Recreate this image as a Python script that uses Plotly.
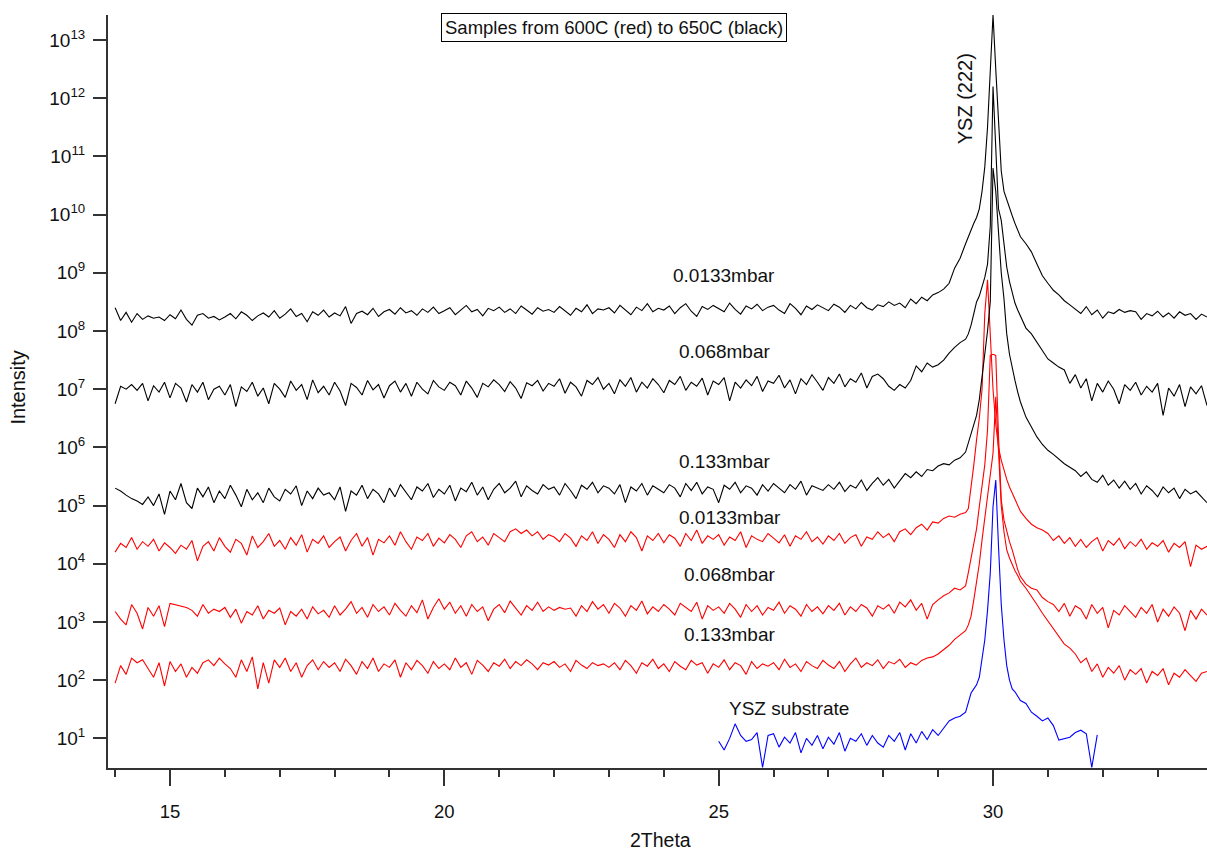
import numpy as np
import plotly.graph_objects as go

# 2Theta sampling grid (measurement steps)
seg_a = np.round(np.arange(14.0, 29.501, 0.1), 2)
seg_peak = np.round(np.arange(29.55, 30.501, 0.05), 2)
seg_b = np.round(np.arange(30.6, 33.901, 0.1), 2)
two_theta = np.concatenate([seg_a, seg_peak, seg_b])

sub_a = np.round(np.arange(25.0, 29.501, 0.1), 2)
sub_b = np.round(np.arange(30.6, 31.901, 0.1), 2)
two_theta_sub = np.concatenate([sub_a, seg_peak, sub_b])

# log10(Intensity)
log_black_00133 = [
    8.40, 8.18, 8.32, 8.15, 8.30, 8.20, 8.26, 8.22, 8.24, 8.18,
    8.28, 8.21, 8.36, 8.20, 8.10, 8.27, 8.30, 8.22, 8.25, 8.19,
    8.24, 8.30, 8.21, 8.33, 8.27, 8.18, 8.26, 8.31, 8.24, 8.35,
    8.22, 8.29, 8.38, 8.25, 8.30, 8.16, 8.33, 8.27, 8.36, 8.24,
    8.31, 8.26, 8.42, 8.13, 8.30, 8.34, 8.28, 8.39, 8.25, 8.33,
    8.37, 8.29, 8.40, 8.31, 8.35, 8.27, 8.38, 8.32, 8.41, 8.30,
    8.35, 8.40, 8.28, 8.36, 8.44, 8.33, 8.37, 8.26, 8.39, 8.35,
    8.41, 8.32, 8.38, 8.30, 8.43, 8.36, 8.29, 8.40, 8.34, 8.37,
    8.32, 8.42, 8.35, 8.27, 8.39, 8.33, 8.45, 8.30, 8.38, 8.36,
    8.40, 8.31, 8.44, 8.36, 8.28, 8.41, 8.35, 8.47, 8.33, 8.39,
    8.36, 8.43, 8.30, 8.40, 8.47, 8.34, 8.25, 8.42, 8.37, 8.44,
    8.39, 8.33, 8.48, 8.37, 8.29, 8.43, 8.38, 8.46, 8.35, 8.41,
    8.44, 8.36, 8.30, 8.47, 8.39, 8.28, 8.43, 8.37, 8.45, 8.40,
    8.35, 8.46, 8.41, 8.32, 8.44, 8.38, 8.49, 8.40, 8.36, 8.45,
    8.42, 8.50, 8.44, 8.48, 8.40, 8.55, 8.47, 8.58, 8.52, 8.62,
    8.66, 8.72, 8.82, 9.08, 9.25, 9.50,
    9.62, 9.75, 9.85, 9.95, 10.10, 10.40, 10.82, 11.50, 12.40, 13.43,
    12.50, 11.70, 10.75, 10.40, 10.25, 10.10, 9.98, 9.85, 9.72, 9.62,
    9.50, 9.36, 9.15, 8.95, 8.82, 8.70, 8.62, 8.52, 8.45, 8.38,
    8.30, 8.42, 8.28, 8.36, 8.22, 8.33, 8.30, 8.37, 8.32, 8.35,
    8.33, 8.20, 8.30, 8.26, 8.34, 8.24, 8.31, 8.22, 8.33, 8.27,
    8.30, 8.20, 8.29, 8.24,
]

log_black_0068 = [
    6.75, 7.05, 7.00, 7.08, 6.98, 7.10, 6.80, 7.06, 6.95, 7.12,
    6.85, 7.10, 7.02, 6.78, 7.08, 6.95, 7.12, 6.82, 7.00, 7.05,
    6.90, 7.08, 6.70, 7.04, 6.96, 7.12, 6.88, 7.02, 6.75, 7.10,
    7.00, 6.86, 7.14, 6.98, 7.08, 6.82, 7.16, 6.94, 7.05, 6.90,
    7.12, 6.97, 6.72, 7.10, 7.03, 6.90, 7.15, 6.99, 7.08, 6.85,
    7.06, 7.14, 6.95, 7.10, 6.88, 7.12, 7.00, 6.92, 7.15, 7.04,
    6.98, 7.12, 7.06, 6.90, 7.14, 7.02, 6.86, 7.10, 7.04, 7.16,
    7.08, 6.96, 7.13, 7.02, 6.84, 7.11, 7.06, 7.15, 6.97, 7.10,
    7.05, 7.18, 6.93, 7.12, 7.04, 6.88, 7.15, 7.08, 7.20, 7.00,
    7.10, 6.92, 7.16, 7.05, 7.20, 6.95, 7.12, 7.02, 7.18, 7.08,
    6.94, 7.15, 7.08, 7.22, 6.98, 7.12, 7.05, 7.19, 6.90, 7.14,
    7.08, 7.20, 6.80, 7.12, 7.02, 7.16, 7.06, 7.22, 6.96, 7.14,
    7.10, 7.24, 7.02, 7.16, 6.92, 7.18, 7.08, 7.25, 7.12, 6.98,
    7.20, 7.10, 7.26, 7.04, 7.18, 7.12, 7.28, 7.02, 7.22, 7.26,
    7.18, 7.05, 6.98, 7.08, 7.02, 7.15, 7.40, 7.30, 7.45, 7.38,
    7.42, 7.50, 7.62, 7.72, 7.80, 7.86,
    7.95, 8.10, 8.30, 8.50, 8.60, 8.75, 8.92, 9.15, 9.80, 12.20,
    11.20, 10.10, 9.90, 9.45, 9.10, 8.85, 8.65, 8.48, 8.36, 8.25,
    8.05, 7.95, 7.80, 7.65, 7.52, 7.45, 7.38, 7.33, 7.10, 7.25,
    7.02, 7.18, 6.80, 7.10, 6.95, 7.14, 7.00, 6.75, 7.08, 6.98,
    7.12, 6.90, 7.05, 6.95, 7.10, 6.55, 7.02, 6.88, 7.08, 6.70,
    7.04, 6.92, 7.06, 6.72,
]

log_black_0133 = [
    5.30, 5.25, 5.18, 5.12, 5.08, 5.02, 5.15, 5.00, 5.20, 4.85,
    5.25, 5.10, 5.38, 5.05, 4.95, 5.30, 5.15, 5.32, 5.05, 5.25,
    5.12, 5.35, 5.18, 4.98, 5.28, 5.10, 5.22, 5.05, 5.30, 5.15,
    5.08, 5.28, 5.20, 5.34, 5.00, 5.25, 5.12, 5.30, 5.18, 5.22,
    5.10, 5.32, 4.90, 5.25, 5.18, 5.35, 5.12, 5.28, 5.20, 5.05,
    5.30, 5.15, 5.36, 5.22, 5.10, 5.32, 5.25, 5.38, 5.14, 5.28,
    5.20, 5.35, 5.08, 5.30, 5.24, 5.40, 5.18, 5.32, 5.10, 5.28,
    5.38, 5.22, 5.30, 5.42, 5.15, 5.34, 5.26, 5.20, 5.36, 5.28,
    5.32, 5.18, 5.38, 5.26, 5.12, 5.35, 5.28, 5.40, 5.22, 5.34,
    5.30, 5.20, 5.36, 5.05, 5.32, 5.25, 5.38, 5.18, 5.34, 5.28,
    5.22, 5.36, 5.30, 5.15, 5.38, 5.26, 5.40, 5.20, 5.32, 5.28,
    5.05, 5.35, 5.28, 5.40, 5.22, 5.34, 5.30, 5.18, 5.36, 5.25,
    5.38, 5.30, 5.22, 5.36, 5.28, 5.42, 5.18, 5.34, 5.30, 5.26,
    5.36, 5.28, 5.40, 5.24, 5.35, 5.30, 5.44, 5.26, 5.38, 5.48,
    5.35, 5.45, 5.30, 5.42, 5.55, 5.48, 5.58, 5.50, 5.62, 5.60,
    5.68, 5.72, 5.70, 5.78, 5.82, 5.92,
    6.08, 6.20, 6.38, 6.55, 6.82, 7.20, 7.60, 8.00, 8.50, 10.80,
    10.40, 9.60, 9.00, 8.55, 7.95, 7.60, 7.35, 7.15, 6.95, 6.78,
    6.52, 6.35, 6.18, 6.05, 5.95, 5.88, 5.80, 5.72, 5.66, 5.60,
    5.50, 5.58, 5.45, 5.40, 5.52, 5.35, 5.44, 5.30, 5.42, 5.28,
    5.38, 5.20, 5.34, 5.26, 5.15, 5.32, 5.22, 5.30, 5.12, 5.28,
    5.20, 5.25, 5.15, 5.05,
]

log_red_00133 = [
    4.20, 4.35, 4.28, 4.45, 4.25, 4.38, 4.30, 4.42, 4.22, 4.36,
    4.28, 4.18, 4.32, 4.25, 4.40, 4.05, 4.30, 4.38, 4.22, 4.45,
    4.30, 4.20, 4.42, 4.35, 4.15, 4.48, 4.28, 4.38, 4.52, 4.30,
    4.40, 4.25, 4.45, 4.32, 4.50, 4.20, 4.42, 4.35, 4.48, 4.28,
    4.38, 4.46, 4.22, 4.40, 4.52, 4.30, 4.45, 4.15, 4.42, 4.36,
    4.48, 4.32, 4.55, 4.38, 4.25, 4.46, 4.40, 4.52, 4.30, 4.44,
    4.36, 4.50, 4.42, 4.28, 4.48, 4.55, 4.38, 4.46, 4.32, 4.52,
    4.45, 4.38, 4.55, 4.60, 4.52, 4.58, 4.48, 4.55, 4.42, 4.50,
    4.46, 4.38, 4.52, 4.44, 4.30, 4.48, 4.40, 4.55, 4.35, 4.50,
    4.42, 4.28, 4.50, 4.38, 4.55, 4.45, 4.22, 4.48, 4.40, 4.52,
    4.36, 4.50, 4.44, 4.30, 4.52, 4.40, 4.58, 4.35, 4.48, 4.42,
    4.50, 4.32, 4.46, 4.40, 4.55, 4.28, 4.48, 4.42, 4.38, 4.52,
    4.44, 4.36, 4.50, 4.30, 4.48, 4.42, 4.55, 4.38, 4.46, 4.34,
    4.48, 4.40, 4.52, 4.35, 4.45, 4.50, 4.30, 4.46, 4.42, 4.55,
    4.45, 4.52, 4.38, 4.55, 4.60, 4.50, 4.62, 4.68, 4.58, 4.72,
    4.70, 4.78, 4.82, 4.80, 4.85, 4.88,
    4.95, 5.30, 5.70, 6.13, 6.50, 7.00, 8.30, 8.88, 7.80, 7.00,
    6.40, 6.00, 5.78, 5.60, 5.45, 5.32, 5.22, 5.10, 5.00, 4.90,
    4.78, 4.68, 4.62, 4.58, 4.52, 4.40, 4.48, 4.35, 4.45, 4.30,
    4.42, 4.28, 4.38, 4.45, 4.22, 4.40, 4.32, 4.44, 4.26, 4.38,
    4.30, 4.42, 4.25, 4.36, 4.30, 4.40, 4.20, 4.35, 4.28, 4.38,
    3.95, 4.32, 4.25, 4.30,
]

log_red_0068 = [
    3.18, 3.05, 2.95, 3.30, 3.15, 2.88, 3.25, 3.10, 3.28, 2.92,
    3.32, 3.30, 3.28, 3.25, 3.20, 3.10, 3.30, 3.15, 3.22, 3.18,
    3.25, 3.08, 3.22, 2.98, 3.18, 3.12, 3.28, 3.05, 3.20, 3.15,
    3.24, 2.95, 3.18, 3.10, 3.22, 3.05, 3.26, 3.14, 3.20, 3.08,
    3.28, 3.12, 3.22, 3.35, 3.15, 3.25, 3.08, 3.30, 3.18, 3.26,
    3.12, 3.32, 3.20, 3.10, 3.28, 3.16, 3.38, 3.05, 3.25, 3.40,
    3.22, 3.34, 3.15, 3.28, 3.10, 3.30, 3.18, 3.26, 3.02, 3.22,
    3.30, 3.16, 3.36, 3.24, 3.12, 3.28, 3.20, 3.34, 3.18, 3.26,
    3.20, 3.25, 3.22, 3.24, 3.10, 3.28, 3.18, 3.35, 3.22, 3.30,
    3.15, 3.32, 3.24, 3.10, 3.28, 3.20, 3.36, 3.14, 3.26, 3.18,
    3.30, 3.22, 3.12, 3.32, 3.25, 3.18, 3.34, 3.05, 3.28, 3.20,
    3.26, 3.15, 3.32, 3.22, 3.08, 3.30, 3.18, 3.28, 3.12, 3.25,
    3.20, 3.34, 3.15, 3.28, 3.22, 3.10, 3.30, 3.18, 3.26, 3.14,
    3.28, 3.20, 3.32, 3.12, 3.26, 3.18, 3.30, 3.24, 3.10, 3.28,
    3.22, 3.30, 3.15, 3.34, 3.26, 3.38, 3.20, 3.32, 3.05, 3.30,
    3.38, 3.45, 3.50, 3.58, 3.55, 3.62,
    3.85, 4.10, 4.30, 4.60, 4.98, 5.30, 5.70, 6.30, 7.58, 7.60,
    7.58, 6.20, 5.10, 4.75, 4.55, 4.38, 4.24, 4.05, 3.90, 3.78,
    3.65, 3.58, 3.55, 3.42, 3.35, 3.30, 3.18, 3.32, 3.10, 3.28,
    3.22, 3.05, 3.30, 3.15, 3.25, 2.90, 3.20, 3.12, 3.28, 3.18,
    3.08, 3.25, 3.15, 3.30, 3.00, 3.22, 3.10, 3.26, 3.15, 2.85,
    3.20, 3.05, 3.22, 3.12,
]

log_red_0133 = [
    1.95, 2.25, 2.10, 2.38, 2.30, 2.35, 2.20, 2.05, 2.30, 1.90,
    2.32, 2.15, 2.28, 2.05, 2.22, 2.12, 2.30, 2.35, 2.25, 2.38,
    2.28, 2.20, 2.05, 2.35, 2.15, 2.40, 1.85, 2.30, 1.95, 2.35,
    2.22, 2.38, 2.15, 2.30, 2.05, 2.25, 2.35, 2.18, 2.32, 2.22,
    2.30, 2.15, 2.36, 2.25, 2.10, 2.32, 2.20, 2.38, 2.15, 2.28,
    2.22, 2.35, 2.05, 2.30, 2.18, 2.34, 2.25, 2.12, 2.32, 2.20,
    2.28, 2.18, 2.38, 2.22, 2.30, 2.10, 2.34, 2.26, 2.15, 2.30,
    2.24, 2.36, 2.20, 2.32, 2.25, 2.35, 2.28, 2.18, 2.30, 2.26,
    2.32, 2.22, 2.28, 2.15, 2.34, 2.26, 2.20, 2.30, 2.25, 2.28,
    2.22, 2.30, 2.18, 2.34, 2.25, 2.12, 2.30, 2.24, 2.36, 2.20,
    2.28, 2.15, 2.32, 2.24, 2.18, 2.34, 2.26, 2.30, 2.12, 2.28,
    2.22, 2.35, 2.18, 2.30, 2.25, 2.10, 2.32, 2.20, 2.28, 2.24,
    2.30, 2.18, 2.36, 2.22, 2.28, 2.15, 2.32, 2.25, 2.20, 2.34,
    2.26, 2.20, 2.32, 2.15, 2.28, 2.38, 2.22, 2.30, 2.25, 2.35,
    2.20, 2.32, 2.28, 2.36, 2.22, 2.30, 2.26, 2.34, 2.38, 2.40,
    2.45, 2.52, 2.60, 2.70, 2.78, 2.85,
    2.95, 3.10, 3.38, 3.70, 4.00, 4.41, 4.80, 5.20, 5.56, 5.90,
    6.87, 5.80, 5.00, 4.55, 4.24, 4.10, 3.98, 3.88, 3.80, 3.70,
    3.58, 3.45, 3.30, 3.15, 3.02, 2.90, 2.75, 2.62, 2.55, 2.45,
    2.30, 2.38, 2.15, 2.28, 2.05, 2.22, 2.12, 2.25, 2.00, 2.18,
    2.10, 2.20, 1.95, 2.15, 2.08, 2.20, 1.92, 2.12, 2.05, 2.18,
    2.08, 1.98, 2.12, 2.15,
]

log_substrate = [
    0.95, 0.80, 1.00, 1.25, 1.05, 0.95, 0.98, 1.10, 0.50, 1.05,
    1.08, 0.85, 1.02, 0.92, 1.10, 0.75, 1.00, 0.88, 1.05, 0.82,
    1.02, 0.90, 1.10, 0.78, 1.00, 0.95, 1.08, 0.88, 1.05, 0.92,
    0.85, 1.05, 0.95, 1.10, 0.80, 1.08, 0.92, 1.12, 0.98, 1.15,
    1.05, 1.18, 1.30, 1.35, 1.38, 1.45,
    1.62, 1.78, 1.85, 1.92, 2.05, 2.35, 2.69, 3.20, 3.84, 4.98,
    5.44, 4.30, 3.30, 2.69, 2.25, 2.00, 1.85, 1.80, 1.72, 1.65,
    1.60, 1.45, 1.38, 1.30, 1.35, 1.22, 0.97, 1.00, 1.02, 1.10,
    1.14, 1.08, 0.50, 1.06,
]

curve_labels = ["0.0133mbar", "0.068mbar", "0.133mbar",
                "0.0133mbar", "0.068mbar", "0.133mbar", "YSZ substrate"]
label_x = [25.09, 25.11, 25.11, 25.20, 25.20, 25.20, 26.29]
label_logy = [8.96, 7.64, 5.75, 4.80, 3.82, 2.79, 1.52]

ytick_exp = list(range(1, 14))

FONT = "Liberation Sans, Arial, sans-serif"
TXT = "#111111"

fig = go.Figure()
series = [
    (two_theta, log_red_00133, "red"),
    (two_theta, log_red_0068, "red"),
    (two_theta, log_red_0133, "red"),
    (two_theta_sub, log_substrate, "blue"),
    (two_theta, log_black_0133, "black"),
    (two_theta, log_black_0068, "black"),
    (two_theta, log_black_00133, "black"),
]
for xs, ly, col in series:
    fig.add_trace(go.Scatter(
        x=xs, y=np.power(10.0, np.array(ly)), mode="lines",
        line=dict(color=col, width=1.1), showlegend=False, hoverinfo="skip"))

annotations = []
for t, xx, yy in zip(curve_labels, label_x, label_logy):
    annotations.append(dict(x=xx, y=yy, xref="x", yref="y", text=t, showarrow=False,
                            font=dict(family=FONT, size=19, color=TXT),
                            xanchor="center", yanchor="middle"))
annotations.append(dict(x=29.48, y=11.99, xref="x", yref="y", text="YSZ (222)",
                        showarrow=False, textangle=-90,
                        font=dict(family=FONT, size=20, color=TXT),
                        xanchor="center", yanchor="middle"))
annotations.append(dict(x=23.09, y=13.21, xref="x", yref="y",
                        text="Samples from 600C (red) to 650C (black)",
                        showarrow=False, bordercolor="#000000", borderwidth=1, borderpad=3,
                        bgcolor="white",
                        font=dict(family=FONT, size=18.5, color=TXT),
                        xanchor="center", yanchor="middle"))
annotations.append(dict(x=-0.082, y=0.505, xref="paper", yref="paper", text="Intensity",
                        showarrow=False, textangle=-90,
                        font=dict(family=FONT, size=20, color=TXT),
                        xanchor="center", yanchor="middle"))
annotations.append(dict(x=0.503, y=-0.0956, xref="paper", yref="paper", text="2Theta",
                        showarrow=False,
                        font=dict(family=FONT, size=19.5, color=TXT),
                        xanchor="center", yanchor="middle"))

fig.update_layout(
    width=1207, height=855,
    margin=dict(l=108, r=0, t=15, b=87),
    paper_bgcolor="white", plot_bgcolor="white",
    showlegend=False,
    annotations=annotations,
    xaxis=dict(
        range=[13.87, 33.9], showgrid=False, zeroline=False,
        showline=True, linecolor="#333333", linewidth=2,
        ticks="outside", ticklen=16, tickwidth=2, tickcolor="#333333",
        tick0=0, dtick=5, ticklabelstandoff=10,
        minor=dict(dtick=1, ticks="outside", ticklen=7, tickwidth=1.5, tickcolor="#333333", showgrid=False),
        tickfont=dict(family=FONT, size=18.5, color=TXT),
    ),
    yaxis=dict(
        type="log", range=[0.491, 13.43], showgrid=False, zeroline=False,
        showline=True, linecolor="#333333", linewidth=2,
        ticks="outside", ticklen=13, tickwidth=2, tickcolor="#333333",
        ticklabelstandoff=4,
        tickvals=[10 ** e for e in ytick_exp],
        ticktext=["10<sup>%d</sup>" % e for e in ytick_exp],
        tickfont=dict(family=FONT, size=19, color=TXT),
    ),
)

fig.write_html("out.html")
